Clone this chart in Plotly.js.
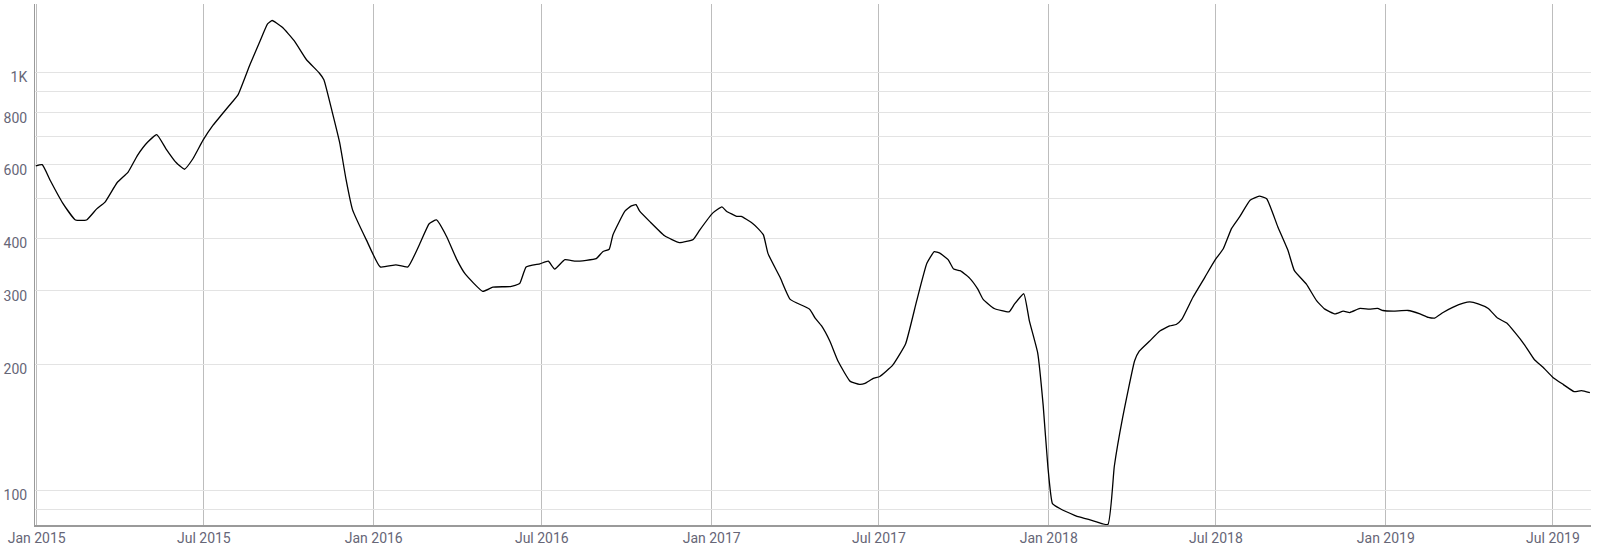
<!DOCTYPE html>
<html>
<head>
<meta charset="utf-8">
<script src="https://cdn.plot.ly/plotly-3.0.1.min.js"></script>
<style>
  html, body { margin: 0; padding: 0; background: #ffffff; }
  #chart { width: 1600px; height: 553px; }
</style>
</head>
<body>
<div id="chart"></div>
<script>
const dates = [
  "2014-12-31","2015-01-07","2015-01-16","2015-01-29","2015-02-12","2015-02-24","2015-03-07","2015-03-16","2015-03-29","2015-04-10",
  "2015-04-20","2015-05-01","2015-05-11","2015-05-21","2015-06-01","2015-06-10","2015-06-19","2015-06-30","2015-07-11","2015-07-20",
  "2015-07-29","2015-08-07","2015-08-20","2015-08-31","2015-09-08","2015-09-13","2015-09-24","2015-10-07","2015-10-20","2015-11-03",
  "2015-11-08","2015-11-17","2015-11-25","2015-12-02","2015-12-09","2015-12-24","2016-01-08","2016-01-25","2016-02-07","2016-02-20",
  "2016-03-01","2016-03-09","2016-03-20","2016-03-31","2016-04-09","2016-04-28","2016-05-09","2016-05-28","2016-06-07","2016-06-14",
  "2016-06-29","2016-07-08","2016-07-15","2016-07-26","2016-08-07","2016-08-29","2016-09-05","2016-09-12","2016-09-16","2016-09-29",
  "2016-10-06","2016-10-11","2016-10-15","2016-10-26","2016-11-11","2016-11-27","2016-12-12","2016-12-19","2017-01-02","2017-01-12",
  "2017-01-17","2017-01-28","2017-02-02","2017-02-13","2017-02-20","2017-02-26","2017-03-03","2017-03-16","2017-03-27","2017-04-17",
  "2017-04-23","2017-04-30","2017-05-09","2017-05-18","2017-05-31","2017-06-10","2017-06-16","2017-06-25","2017-07-02","2017-07-16",
  "2017-07-30","2017-08-11","2017-08-22","2017-08-30","2017-09-05","2017-09-14","2017-09-20","2017-09-27","2017-10-07","2017-10-16",
  "2017-10-22","2017-11-03","2017-11-19","2017-11-25","2017-12-05","2017-12-11","2017-12-20","2017-12-26","2017-12-31","2018-01-05",
  "2018-01-13","2018-01-29","2018-02-03","2018-02-19","2018-03-06","2018-03-13","2018-03-22","2018-04-04","2018-04-09","2018-04-20",
  "2018-05-01","2018-05-12","2018-05-19","2018-05-25","2018-06-06","2018-06-19","2018-06-30","2018-07-09","2018-07-18","2018-07-27",
  "2018-08-07","2018-08-17","2018-08-25","2018-09-06","2018-09-17","2018-09-24","2018-10-07","2018-10-18","2018-10-27","2018-11-07",
  "2018-11-16","2018-11-23","2018-12-04","2018-12-14","2018-12-23","2018-12-29","2019-01-09","2019-01-25","2019-02-07","2019-02-16",
  "2019-02-23","2019-03-04","2019-03-15","2019-03-26","2019-04-02","2019-04-11","2019-04-22","2019-05-02","2019-05-12","2019-05-21",
  "2019-05-31","2019-06-11","2019-06-20","2019-07-01","2019-07-12","2019-07-24","2019-08-01","2019-08-10"
];
const values = [
  597,601,549,487,443,443,471,489,544,577,
  632,680,709,656,608,586,620,687,747,790,
  835,883,1044,1189,1305,1330,1281,1189,1073,996,
  960,804,680,554,469,397,342,346,342,389,
  434,443,404,356,329,299,306,307,312,342,
  348,353,338,356,353,358,372,377,408,465,
  479,482,465,439,406,391,398,419,460,476,
  465,452,452,437,423,408,368,323,286,271,
  258,247,227,203,182,179,180,185,187,199,
  224,284,349,372,369,356,338,335,322,303,
  286,272,267,279,295,254,213,159,114,92.8,
  90.3,87.0,86.2,84.3,82.7,114,149,204,215,227,
  240,247,249,256,289,323,355,378,423,452,
  494,505,498,427,375,335,311,284,271,264,
  268,266,272,271,272,269,268,269,264,259,
  258,266,274,280,282,279,272,258,251,238,
  223,205,197,186,179,172,173,171
];
const yTickVals = [90,100,200,300,400,500,600,700,800,900,1000];
const yTickText = ["","100","200","300","400","","600","","800","","1K"];

const trace = {
  x: dates,
  y: values,
  type: "scatter",
  mode: "lines",
  line: { color: "#000000", width: 1.3, shape: "spline", smoothing: 0.4 },
  hoverinfo: "x+y"
};

const layout = {
  width: 1600,
  height: 553,
  margin: { l: 35, r: 9, t: 4, b: 28 },
  paper_bgcolor: "#ffffff",
  plot_bgcolor: "#ffffff",
  showlegend: false,
  font: { family: "Roboto, 'Open Sans', sans-serif", size: 14, color: "#666677" },
  xaxis: {
    type: "date",
    range: ["2014-12-30 04:00", "2019-08-11 05:00"],
    tick0: "2015-01-01",
    dtick: "M6",
    tickformat: "%b %Y",
    showgrid: true,
    gridcolor: "#bdbdbd",
    gridwidth: 1,
    showline: true,
    linecolor: "#9a9a9a",
    linewidth: 1.5,
    ticks: "",
    zeroline: false,
    tickfont: { family: "Roboto, sans-serif", size: 14, color: "#666677" }
  },
  yaxis: {
    type: "log",
    range: [1.9163, 3.1634],
    tickmode: "array",
    tickvals: yTickVals,
    ticktext: yTickText,
    showgrid: true,
    gridcolor: "#e3e3e3",
    gridwidth: 1,
    showline: true,
    linecolor: "#9a9a9a",
    linewidth: 1,
    ticks: "",
    zeroline: false,
    ticklabelshift: 5,
    ticklabelstandoff: 4,
    tickfont: { family: "Roboto, sans-serif", size: 14, color: "#666677" }
  }
};

Plotly.newPlot("chart", [trace], layout, { displayModeBar: false, staticPlot: true });
</script>
</body>
</html>
